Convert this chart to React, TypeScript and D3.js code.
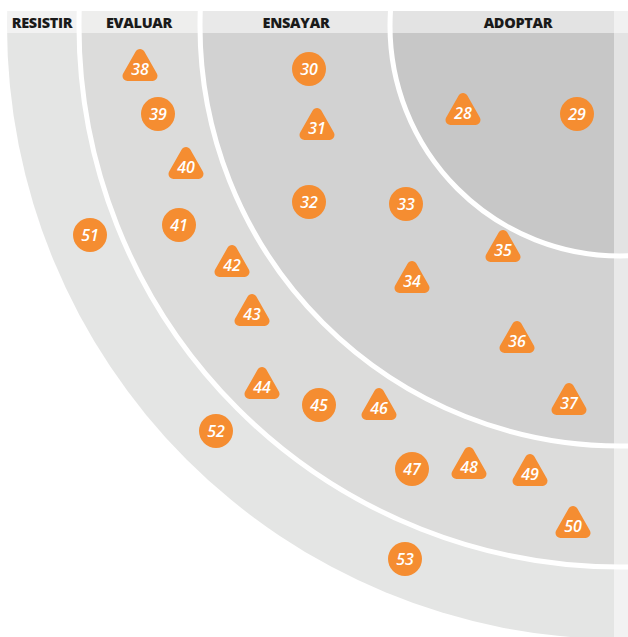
import React from "react";
import * as d3 from "d3";

// radar quadrant, centre sits near the top-right corner
const width = 628;
const height = 637;
const cx = 620;
const cy = 26;

const ringNames = ["ADOPTAR", "ENSAYAR", "EVALUAR", "RESISTIR"];
const ringRadii = [230, 420, 541, 613];
const ringFills = ["#c7c7c7", "#d2d2d2", "#dcdcdb", "#e4e5e4"];
const ringLabelDist = [102, 324, 481, 578]; // distance left of centre for header labels

const blipIds = [28, 29, 30, 31, 32, 33, 34, 35, 36, 37, 38, 39, 40, 41, 42, 43, 44, 45, 46, 47, 48, 49, 50, 51, 52, 53];
const blipShapes = ["tri", "circle", "circle", "tri", "circle", "circle", "tri", "tri", "tri", "tri", "tri", "circle", "tri", "circle", "tri", "tri", "tri", "circle", "tri", "circle", "tri", "tri", "tri", "circle", "circle", "circle"];
// offsets from the radar centre: dx = to the left, dy = downwards
const blipDx = [157, 43, 311, 303, 311, 214, 208, 117, 103, 51, 480, 462, 434, 441, 388, 368, 358, 301, 241, 208, 151, 90, 47, 530, 404, 215];
const blipDy = [87, 88, 43, 102, 176, 178, 255, 224, 315, 377, 43, 88, 141, 199, 239, 288, 361, 379, 382, 443, 441, 448, 500, 209, 405, 533];

const orange = "#f58d31";

const App = () => {
    const xScale = d3.scaleLinear().domain([0, cx]).range([cx, 0]);
    const yScale = d3.scaleLinear().domain([0, height - cy]).range([cy, height]);
    const rScale = d3.scaleLinear().domain([0, 700]).range([0, 700]);

    // rounded triangle: thin triangle + fat round-joined stroke
    const triPath = d3.line()([[0, -15], [12.5, 7], [-12.5, 7]]) + "Z";

    const order = d3.range(ringRadii.length).reverse();

    return (
        <div style={{ position: "fixed", left: 0, top: 0 }}>
            <svg width={width} height={height} style={{ display: "block", background: "white" }}>
                <defs>
                    <clipPath id="quad">
                        <rect x={0} y={11} width={width} height={height - 11} />
                    </clipPath>
                </defs>

                <g clipPath="url(#quad)">
                    {/* ring discs, largest first */}
                    {order.map((i) => (
                        <circle key={"ring" + i} cx={cx} cy={cy} r={rScale(ringRadii[i])} fill={ringFills[i]} />
                    ))}
                    {/* white separators between rings */}
                    {ringRadii.slice(0, 3).map((r, i) => (
                        <circle key={"sep" + i} cx={cx} cy={cy} r={rScale(r)} fill="none" stroke="white" strokeWidth={5} />
                    ))}

                    {/* header band and right strip wash */}
                    <rect x={0} y={11} width={width} height={22} fill="white" fillOpacity={0.5} />
                    <rect x={614} y={11} width={width - 614} height={height - 11} fill="white" fillOpacity={0.5} />
                </g>

                {/* ring labels */}
                {ringNames.map((name, i) => (
                    <text
                        key={name}
                        x={xScale(ringLabelDist[i])}
                        y={22}
                        textAnchor="middle"
                        dominantBaseline="central"
                        fontFamily="'Open Sans', sans-serif"
                        fontWeight={800}
                        fontSize={14.5}
                        letterSpacing={-0.3}
                        fill="#1a1a1a"
                    >
                        {name}
                    </text>
                ))}

                {/* blips */}
                {blipIds.map((id, i) => {
                    const x = xScale(blipDx[i]);
                    const y = yScale(blipDy[i]);
                    return (
                        <g key={id} transform={`translate(${x},${y})`}>
                            {blipShapes[i] === "tri" ? (
                                <path d={triPath} fill={orange} stroke={orange} strokeWidth={10} strokeLinejoin="round" />
                            ) : (
                                <circle r={17} fill={orange} />
                            )}
                            <text
                                textAnchor="middle"
                                dominantBaseline="central"
                                fontFamily="'Open Sans', sans-serif"
                                fontStyle="italic"
                                fontWeight={600}
                                fontSize={16}
                                fill="white"
                            >
                                {id}
                            </text>
                        </g>
                    );
                })}
            </svg>
        </div>
    );
};

export default App;
